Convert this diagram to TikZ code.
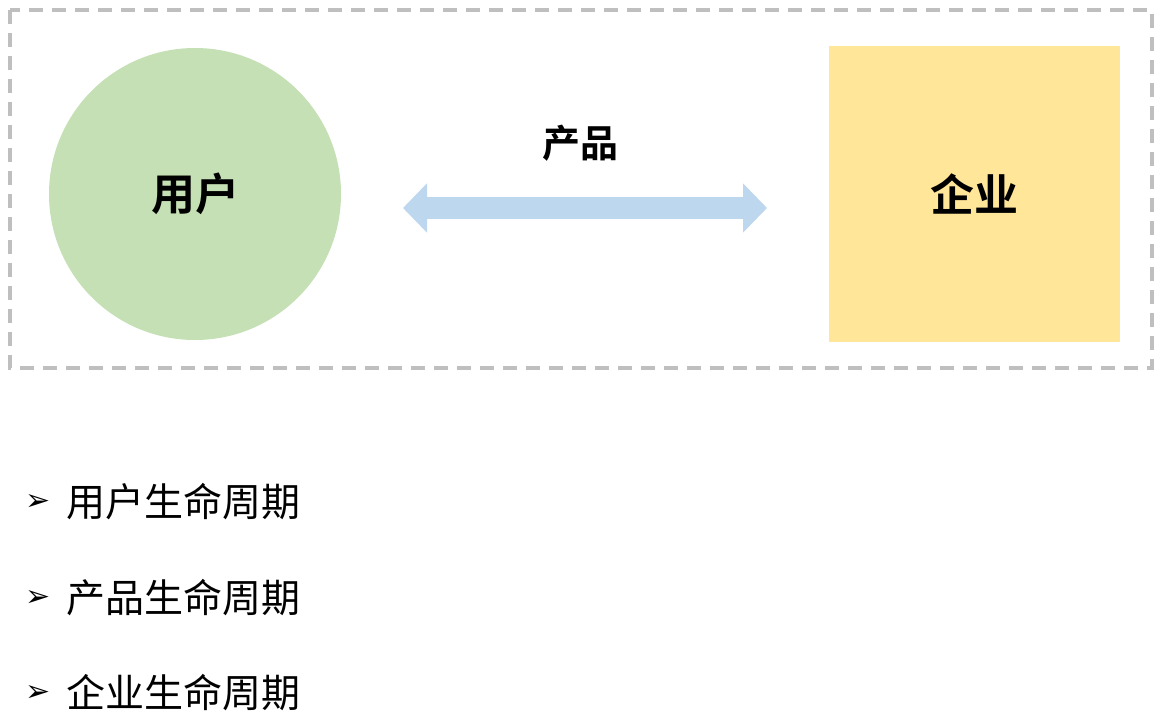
\documentclass[tikz,border=0pt]{standalone}
\usepackage{fontspec}
\newfontfamily\cjk{Noto Sans CJK SC}
\newfontfamily\cjkb{Noto Sans CJK SC Bold}
\newfontfamily\dejavu{DejaVu Sans}
\usetikzlibrary{arrows.meta}
\definecolor{cgreen}{HTML}{C5E0B4}
\definecolor{cyellow}{HTML}{FFE699}
\definecolor{cblue}{HTML}{BDD7EE}
\definecolor{cgray}{HTML}{BFBFBF}
\begin{document}
\begin{tikzpicture}[x=1pt,y=-1pt,
  big/.style={font=\cjkb\fontsize{44}{50}\selectfont},
  item/.style={anchor=west,font=\cjk\fontsize{39}{44}\selectfont},
  bul/.style={font=\dejavu\fontsize{30}{34}\selectfont}]
\useasboundingbox (0,0) rectangle (1160,723);
\draw[cgray,line width=4pt,dash pattern=on 14pt off 9pt] (10,10) rectangle (1152,368);
\node[circle,fill=cgreen,minimum size=292pt,inner sep=0pt] (user) at (195,194) {};
\node[big] at (user) {用户};
\node[fill=cyellow,minimum width=291pt,minimum height=296pt,inner sep=0pt] (ent) at (974.5,194) {};
\node[big] at (ent) {企业};
\coordinate (a1) at (403,208);
\coordinate (a2) at (767,208);
\draw[cblue,line width=22pt,{Triangle[width=48pt,length=24pt]}-{Triangle[width=48pt,length=24pt]}] (a1) -- (a2);
\node[font=\cjkb\fontsize{38}{44}\selectfont] (prod) at (580,143) {产品};
\foreach \y/\t [count=\i] in {502/用户生命周期,598/产品生命周期,693/企业生命周期}{
  \node[bul] (b\i) at (38,\y) {➢};
  \node[item] (t\i) at (63,\y) {\t};
}
\end{tikzpicture}
\end{document}
